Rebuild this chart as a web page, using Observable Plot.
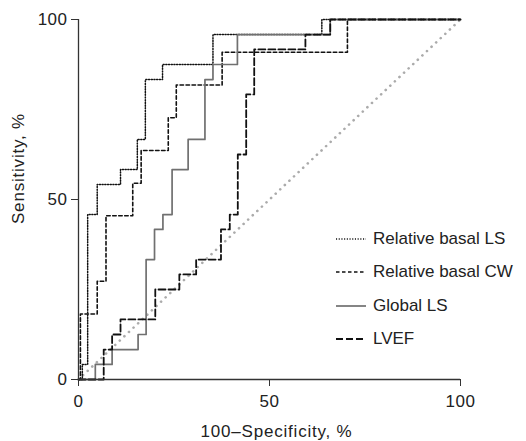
<!DOCTYPE html>
<html><head><meta charset="utf-8">
<script src="https://cdn.jsdelivr.net/npm/d3@7"></script>
<script src="https://cdn.jsdelivr.net/npm/@observablehq/plot@0.6"></script>
<style>
body{margin:0;background:#fff;}
#wrap{position:relative;width:526px;height:441px;font-family:"Liberation Sans",Arial,Helvetica,sans-serif;color:#222;}
#legend{position:absolute;left:335px;top:222px;font-size:17px;}
.row{display:flex;align-items:center;height:33.5px;}
.row svg{margin-right:6px;}
.ttl{letter-spacing:0.8px;}
.tk text{letter-spacing:0.5px;}
</style></head>
<body><div id="wrap"><div id="legend"></div></div>
<script>
// ROC vertices (100-specificity, sensitivity), drawn as step-after
const seriesNames = ["Relative basal LS", "Relative basal CW", "Global LS", "LVEF"];
const lsX = [0, 1, 2.4, 4.9, 11, 15.4, 17.5, 22, 35.2, 63.7, 100];
const lsY = [0, 4.2, 45.8, 54.2, 58.3, 66.7, 83.3, 87.5, 95.8, 100, 100];
const cwX = [0, 0.5, 4.9, 7.2, 14.2, 16.4, 23.5, 25.6, 37.6, 70.4, 100];
const cwY = [0, 18.2, 27.3, 45.5, 54.5, 63.6, 72.7, 81.8, 90.9, 100, 100];
const glsX = [0, 4.4, 8.8, 15.6, 17.7, 19.9, 22.1, 24.5, 28.7, 33.1, 35.2, 41.6, 65.9, 100];
const glsY = [0, 4.2, 8.3, 12.5, 33.3, 41.7, 45.8, 58.3, 66.7, 83.3, 87.5, 95.8, 100, 100];
const lvefX = [0, 6.6, 8.8, 11, 20.1, 26.4, 30.8, 37.3, 39.6, 41.7, 43.9, 46, 59.4, 65.9, 100];
const lvefY = [0, 8.3, 12.5, 16.7, 25, 29.2, 33.3, 41.7, 45.8, 62.5, 79.2, 91.7, 95.8, 100, 100];
const diagX = [0, 100];
const diagY = [0, 100];
const axisTicks = [0, 50, 100];
const xLabel = "100–Specificity, %";
const yLabel = "Sensitivity, %";

const styles = {
  "Relative basal LS": {stroke: "#111", strokeWidth: 1.5, dash: "1.1,1.6"},
  "Relative basal CW": {stroke: "#111", strokeWidth: 1.6, dash: "3.5,2.5"},
  "Global LS": {stroke: "#707070", strokeWidth: 1.7, dash: null},
  "LVEF": {stroke: "#111", strokeWidth: 1.8, dash: "7,3"}
};
const xs = [lsX, cwX, glsX, lvefX];
const ys = [lsY, cwY, glsY, lvefY];
const rows = seriesNames.flatMap((name, k) => xs[k].map((x, i) => ({name, x, y: ys[k][i]})));
const diag = diagX.map((x, i) => ({x, y: diagY[i]}));

const font = '"Liberation Sans",Arial,Helvetica,sans-serif';
const chart = Plot.plot({
  width: 526, height: 441,
  marginLeft: 78, marginRight: 66, marginTop: 19, marginBottom: 62,
  style: {fontFamily: font, fontSize: "17px", color: "#222", background: "transparent"},
  x: {domain: [0, 100]},
  y: {domain: [0, 100]},
  marks: [
    Plot.line(diag, {x: "x", y: "y", stroke: "#ababab", strokeWidth: 2.6, strokeDasharray: "0.1,6.2", strokeLinecap: "round"}),
    ...seriesNames.map(name => Plot.line(rows.filter(d => d.name === name), {
      x: "x", y: "y", curve: "step-after",
      stroke: styles[name].stroke, strokeWidth: styles[name].strokeWidth,
      strokeDasharray: styles[name].dash
    })),
    Plot.ruleX([0], {stroke: "#333", strokeWidth: 1.3}),
    Plot.ruleY([0], {stroke: "#333", strokeWidth: 1.3}),
    Plot.axisX({ticks: axisTicks, tickSize: 7, tickPadding: 8, label: null, stroke: "#333", fill: "#222", fontSize: 17, className: "tk"}),
    Plot.axisY({ticks: axisTicks, tickSize: 7, tickPadding: 4, label: null, stroke: "#333", fill: "#222", fontSize: 17, className: "tk"}),
    Plot.text([xLabel], {frameAnchor: "bottom", textAnchor: "middle", lineAnchor: "middle", dx: 7, dy: 52, fontSize: 17, fill: "#222", className: "ttl"}),
    Plot.text([yLabel], {frameAnchor: "left", textAnchor: "middle", lineAnchor: "middle", rotate: -90, dx: -60, dy: -31, fontSize: 17, fill: "#222", className: "ttl"})
  ]
});
const wrap = document.getElementById("wrap");
wrap.insertBefore(chart, wrap.firstChild);

const legend = document.getElementById("legend");
for (const name of seriesNames) {
  const s = styles[name];
  const row = document.createElement("div");
  row.className = "row";
  row.innerHTML = `<svg width="32" height="10"><line x1="1" y1="5" x2="31" y2="5" stroke="${s.stroke}" stroke-width="${s.strokeWidth}" ${s.dash ? `stroke-dasharray="${s.dash}"` : ""}/></svg><span>${name}</span>`;
  legend.appendChild(row);
}
</script>
</body></html>
